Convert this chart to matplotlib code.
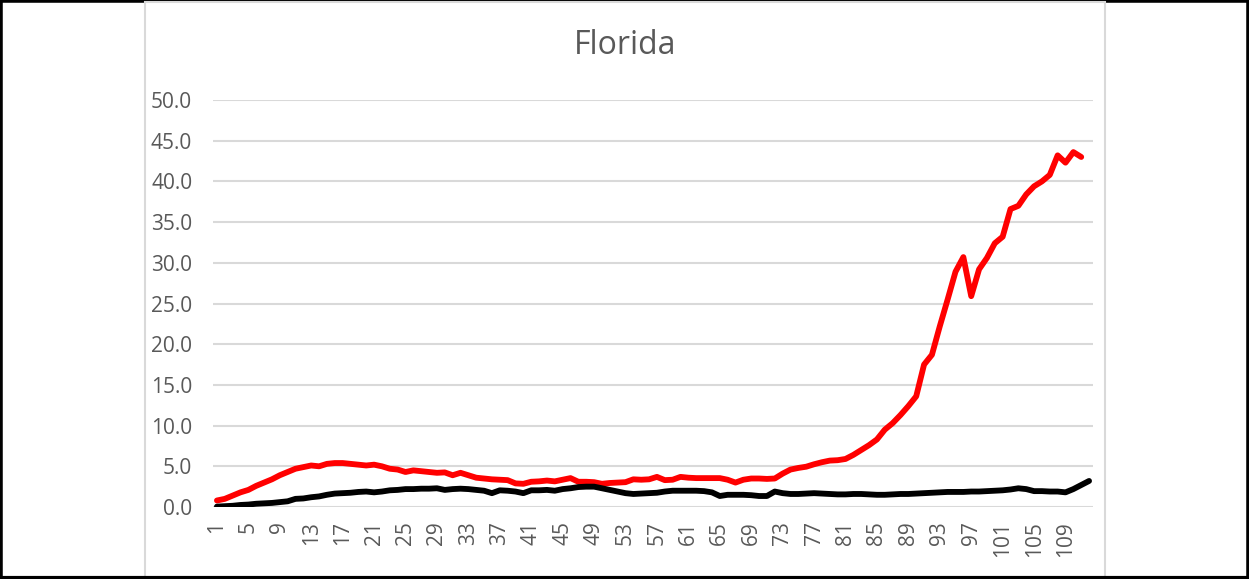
import numpy as np
import matplotlib.pyplot as plt
from matplotlib.patches import Rectangle

# values
red_vals = [0.8, 1.0, 1.4, 1.8, 2.1, 2.6, 3.0, 3.4, 3.9, 4.3,
            4.7, 4.9, 5.1, 5.0, 5.3, 5.4, 5.4, 5.3, 5.2, 5.1,
            5.2, 5.0, 4.7, 4.6, 4.3, 4.5, 4.4, 4.3, 4.2, 4.25,
            3.9, 4.2, 3.9, 3.6, 3.5, 3.4, 3.35, 3.3, 2.9, 2.85,
            3.1, 3.15, 3.25, 3.15, 3.35, 3.55, 3.1, 3.1, 3.05, 2.85,
            2.95, 3.0, 3.05, 3.4, 3.35, 3.4, 3.7, 3.3, 3.35, 3.7,
            3.6, 3.55, 3.55, 3.55, 3.55, 3.35, 3.0, 3.35, 3.5, 3.5,
            3.45, 3.5, 4.1, 4.6, 4.8, 4.95, 5.25, 5.5, 5.7, 5.75,
            5.9, 6.4, 7.0, 7.6, 8.3, 9.5, 10.3, 11.3, 12.4, 13.6,
            17.5, 18.7, 22.2, 25.5, 28.9, 30.7, 25.9, 29.2, 30.6, 32.4,
            33.2, 36.6, 37.0, 38.4, 39.4, 40.0, 40.8, 43.2, 42.3, 43.6,
            43.0]
black_vals = [0.05, 0.1, 0.15, 0.25, 0.3, 0.4, 0.45, 0.5, 0.6, 0.7,
              1.0, 1.05, 1.2, 1.3, 1.5, 1.65, 1.7, 1.75, 1.85, 1.9,
              1.8, 1.9, 2.05, 2.1, 2.2, 2.2, 2.25, 2.25, 2.3, 2.1,
              2.2, 2.25, 2.2, 2.1, 2.0, 1.7, 2.05, 2.0, 1.9, 1.7,
              2.05, 2.05, 2.1, 2.0, 2.2, 2.3, 2.45, 2.5, 2.5, 2.3,
              2.1, 1.9, 1.7, 1.6, 1.65, 1.7, 1.75, 1.9, 2.0, 2.0,
              2.0, 2.0, 1.95, 1.8, 1.35, 1.5, 1.5, 1.5, 1.45, 1.35,
              1.35, 1.9, 1.7, 1.6, 1.6, 1.65, 1.7, 1.65, 1.6, 1.55,
              1.55, 1.6, 1.6, 1.55, 1.5, 1.5, 1.55, 1.6, 1.6, 1.65,
              1.7, 1.75, 1.8, 1.85, 1.85, 1.85, 1.9, 1.9, 1.95, 2.0,
              2.05, 2.15, 2.3, 2.2, 1.95, 1.95, 1.9, 1.9, 1.8, 2.2,
              2.7, 3.2]
days = np.arange(1, len(black_vals) + 1)
red_days = days[:len(red_vals)]
tick_days = days[::4]
y_ticks = np.arange(0, 55, 5)

plt.rcParams['font.family'] = ['Open Sans', 'DejaVu Sans']
grey_txt = '#595959'

fig = plt.figure(figsize=(12.49, 5.79), dpi=100)
W, H = 1249, 579

# outer black frame and chart area box
fig.patches.append(Rectangle((0, 0), 1, 1, transform=fig.transFigure,
                             facecolor='white', edgecolor='black', lw=4, zorder=0))
fig.patches.append(Rectangle((145 / W, -0.01), (1105 - 145) / W, 1.0 - 1.5 / H + 0.01,
                             transform=fig.transFigure, facecolor='white',
                             edgecolor='#d9d9d9', lw=1.5, zorder=1))
fig.lines.append(plt.Line2D([0, 1], [1.5 / H, 1.5 / H], transform=fig.transFigure,
                            color='black', lw=3, zorder=2))

ax = fig.add_axes([213 / W, 1 - 507 / H, (1093 - 213) / W, (507 - 100) / H])
ax.set_zorder(5)
ax.set_facecolor('none')
ax.plot(red_days, red_vals, color='#ff0000', lw=4.2, solid_capstyle='round', zorder=3)
ax.plot(days, black_vals, color='black', lw=4.2, solid_capstyle='round', zorder=3)

ax.set_xlim(0.5, len(days) + 0.5)
ax.set_ylim(0, 50)
ax.set_yticks(y_ticks)
ax.set_yticklabels([f'{v:.1f}' for v in y_ticks])
ax.set_xticks(tick_days)
ax.set_xticklabels([str(d) for d in tick_days], rotation=90)
ax.grid(axis='y', color='#d9d9d9', lw=1.5)
ax.set_axisbelow(True)
for s in ax.spines.values():
    s.set_visible(False)
ax.tick_params(length=0, labelsize=15, colors=grey_txt)
ax.tick_params(axis='y', pad=15)
ax.tick_params(axis='x', pad=10)

fig.text(625 / W, 1 - 46 / H, 'Florida', ha='center', va='center',
         fontsize=23, color=grey_txt, zorder=6)

fig.savefig('out.png', dpi=100)
